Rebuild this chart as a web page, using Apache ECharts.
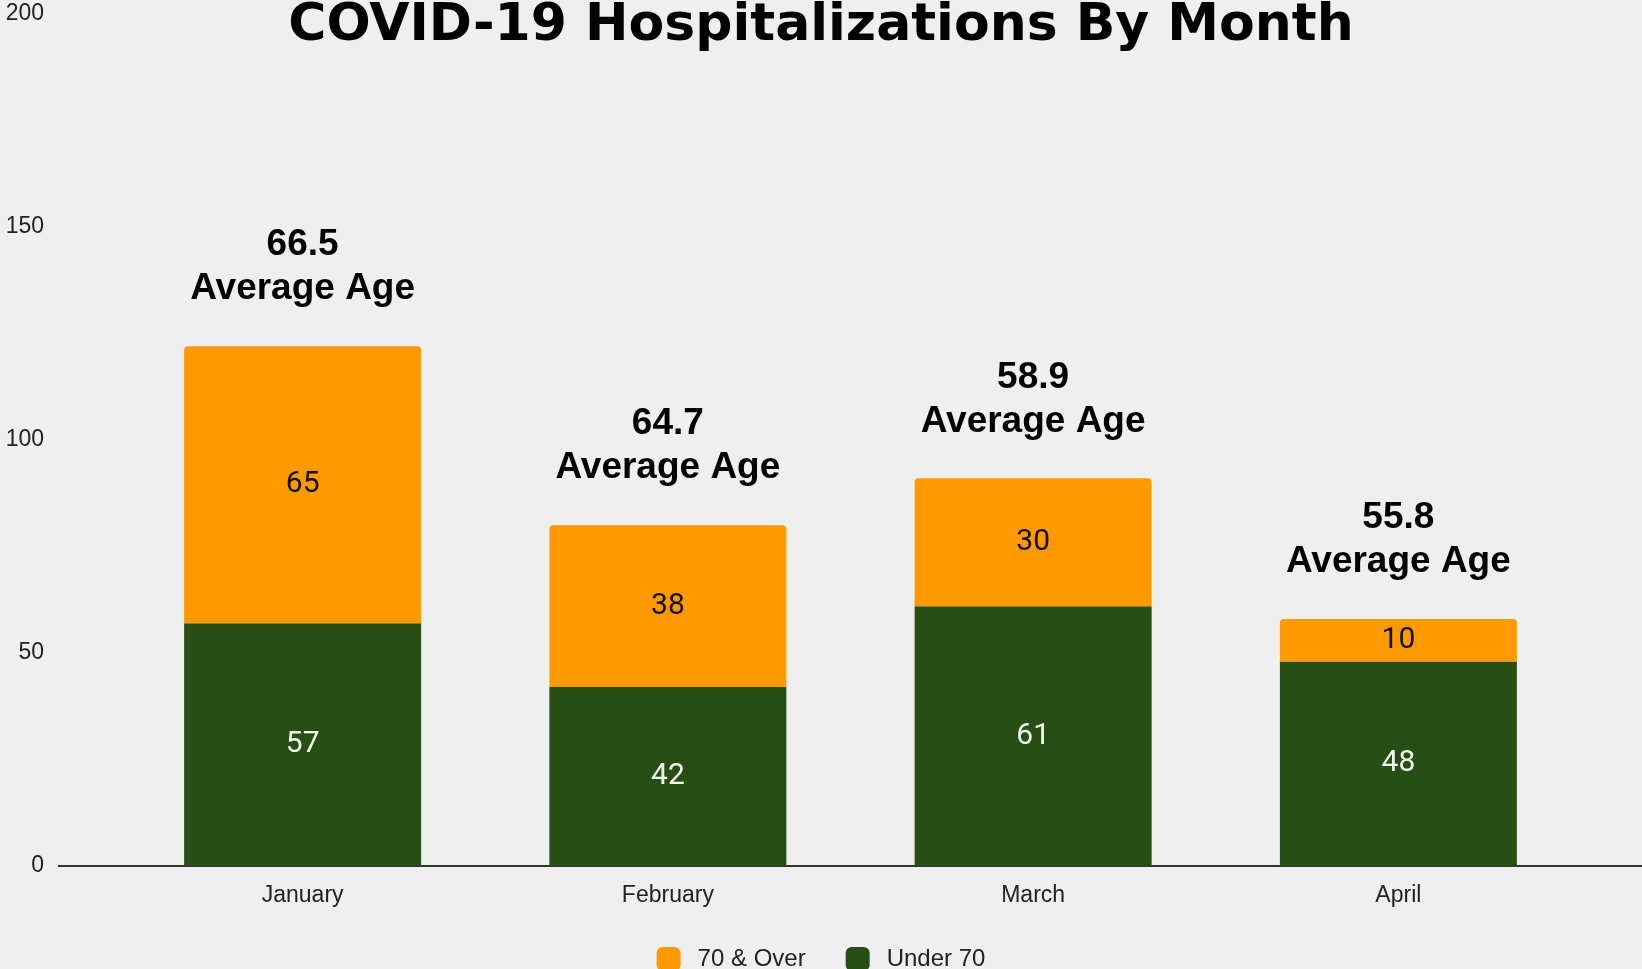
<!DOCTYPE html>
<html>
<head>
<meta charset="utf-8">
<script src="https://cdn.jsdelivr.net/npm/echarts@6/dist/echarts.min.js"></script>
<style>
  html, body { margin: 0; padding: 0; background: #efefef; }
  #main { width: 1642px; height: 969px; }
</style>
</head>
<body>
<div id="main"></div>
<script>
var months = ["January", "February", "March", "April"];
var over70 = [65, 38, 30, 10];
var under70 = [57, 42, 61, 48];
var avgAge = ["66.5", "64.7", "58.9", "55.8"];
var yTicks = [0, 50, 100, 150, 200];

var myChart = echarts.init(document.getElementById('main'));

// empty stacked series, only there to carry the "Average Age" notes
var notes = months.map(function () { return 0; });

var option = {
	backgroundColor: "#efefef",
	animation: false,
	title: {
		text: "COVID-19 Hospitalizations By Month",
		left: "center",
		top: -5,
		textStyle: {
			fontFamily: "DejaVu Sans",
			fontWeight: "bold",
			fontSize: 52,
			color: "#000"
		}
	},
	grid: {
		left: 120,
		right: 61,
		top: 14,
		bottom: 103
	},
	legend: {
		data: ["70 & Over", "Under 70"],
		left: "center",
		top: 942,
		itemWidth: 24,
		itemHeight: 24,
		itemGap: 40,
		icon: "roundRect",
		textStyle: {
			fontFamily: "Liberation Sans",
			fontSize: 24,
			color: "#222",
			padding: [0, 0, 0, 12]
		}
	},
	xAxis: {
		type: "category",
		data: months,
		axisLine: { show: false },
		axisTick: { show: false },
		axisLabel: {
			margin: 18,
			fontFamily: "Liberation Sans",
			fontSize: 23,
			color: "#222"
		}
	},
	yAxis: {
		type: "value",
		min: yTicks[0],
		max: yTicks[yTicks.length - 1],
		interval: yTicks[1] - yTicks[0],
		splitLine: { show: false },
		axisLine: { show: false },
		axisTick: { show: false },
		axisLabel: {
			margin: 76,
			fontFamily: "Liberation Sans",
			fontSize: 23,
			color: "#222"
		}
	},
	graphic: [{
		type: "line",
		shape: { x1: 58, y1: 866, x2: 1642, y2: 866 },
		style: { stroke: "#333", lineWidth: 2 },
		z: 1
	}],
	series: [{
		name: "Under 70",
		type: "bar",
		stack: "total",
		barWidth: 237,
		data: under70,
		itemStyle: { color: "#274e13" },
		label: {
			show: true,
			position: "inside",
			fontFamily: "Roboto",
			fontSize: 30,
			color: "#f4faf0"
		},
		z: 3
	}, {
		name: "70 & Over",
		type: "bar",
		stack: "total",
		barWidth: 237,
		data: over70,
		itemStyle: { color: "#ff9900", borderRadius: [4, 4, 0, 0] },
		label: {
			show: true,
			position: "inside",
			fontFamily: "Roboto",
			fontSize: 30,
			color: "#111"
		},
		z: 3
	}, {
		name: "notes",
		type: "bar",
		stack: "total",
		barWidth: 237,
		data: notes,
		itemStyle: { color: "transparent" },
		label: {
			show: true,
			position: "top",
			distance: 35,
			formatter: function (p) {
				return avgAge[p.dataIndex] + "\nAverage Age";
			},
			fontFamily: "Liberation Sans",
			fontWeight: "bold",
			fontSize: 37,
			lineHeight: 44,
			color: "#000"
		},
		z: 3
	}]
};

myChart.setOption(option);
</script>
</body>
</html>
